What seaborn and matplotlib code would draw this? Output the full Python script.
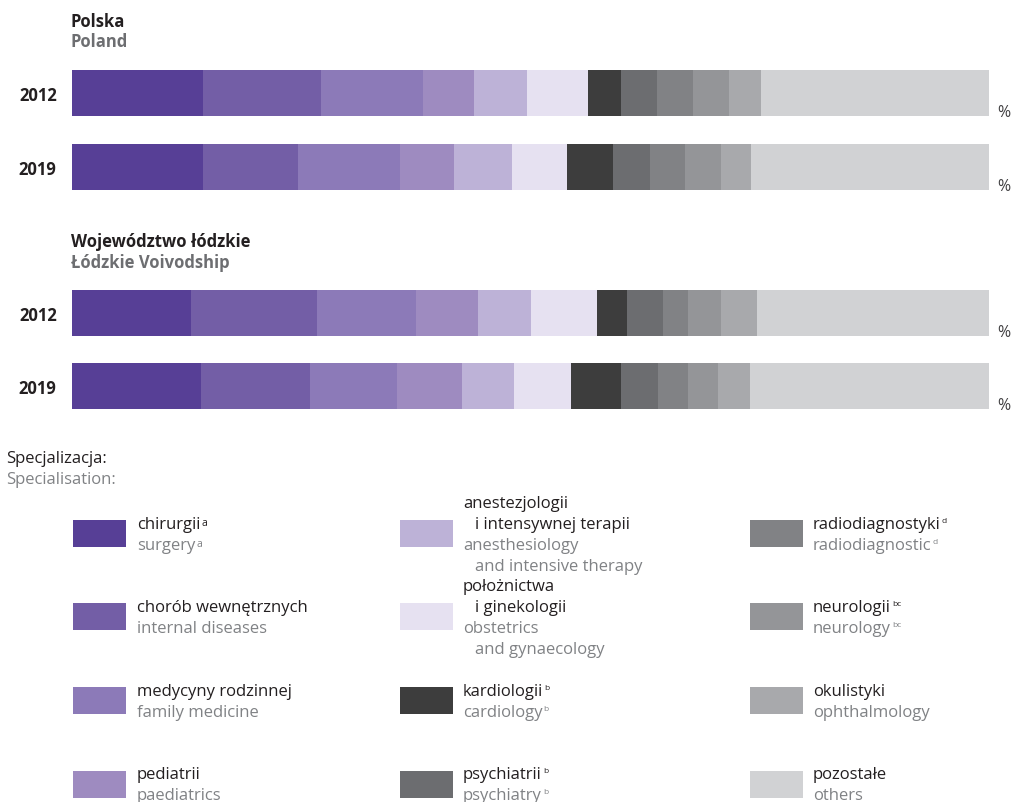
import numpy as np
import pandas as pd
import matplotlib
matplotlib.use("Agg")
import matplotlib.pyplot as plt
import matplotlib.transforms as mtransforms
from matplotlib.patches import Rectangle
import seaborn as sns

# ── Data (shares of specialists, %) ──────────────────────────────────────────

categories = [
    "chirurgii", "chorób wewnętrznych", "medycyny rodzinnej", "pediatrii",
    "anestezjologii", "położnictwa", "kardiologii", "psychiatrii",
    "radiodiagnostyki", "neurologii", "okulistyki", "pozostałe",
]
years = ["2012", "2019"]

polska_2012 = [14.3, 12.9, 11.1, 5.5, 5.8, 6.7, 3.6, 3.9, 3.9, 4.0, 3.4, 24.9]
polska_2019 = [14.3, 10.4, 11.1, 5.9, 6.3, 6.0, 5.0, 4.0, 3.9, 3.9, 3.3, 25.9]
lodzkie_2012 = [13.0, 13.7, 10.8, 6.8, 5.7, 7.2, 3.3, 4.0, 2.7, 3.6, 3.9, 25.3]
lodzkie_2019 = [14.1, 11.8, 9.5, 7.1, 5.7, 6.2, 5.5, 4.0, 3.3, 3.3, 3.4, 26.1]

colors = [
    "#573f96", "#735ea6", "#8c7ab8", "#9e8bc0", "#bdb2d7", "#e6e1f1",
    "#3d3d3d", "#6c6d70", "#818285", "#949598", "#a8a9ac", "#d1d2d4",
]

legend_pl = [
    ["chirurgii"], ["chorób wewnętrznych"], ["medycyny rodzinnej"], ["pediatrii"],
    ["anestezjologii", "i intensywnej terapii"], ["położnictwa", "i ginekologii"],
    ["kardiologii"], ["psychiatrii"],
    ["radiodiagnostyki"], ["neurologii"], ["okulistyki"], ["pozostałe"],
]
legend_en = [
    ["surgery"], ["internal diseases"], ["family medicine"], ["paediatrics"],
    ["anesthesiology", "and intensive therapy"], ["obstetrics", "and gynaecology"],
    ["cardiology"], ["psychiatry"],
    ["radiodiagnostic"], ["neurology"], ["ophthalmology"], ["others"],
]
legend_sup = ["a", "", "", "", "", "", "b", "b", "d", "bc", "", ""]

DARK = "#231f20"
GREY = "#808285"
TITLE_GREY = "#6d6e71"

W, H = 1013, 803

sns.set_theme(style="white")
plt.rcParams["font.family"] = ["Open Sans", "DejaVu Sans"]


def px_axes(fig, left, top, right, bottom):
    return fig.add_axes([left / W, 1 - bottom / H, (right - left) / W, (bottom - top) / H])


def draw_region(ax, vals_2012, vals_2019, spacing):
    rows = []
    for year, vals in zip(years, [vals_2012, vals_2019]):
        cum = np.cumsum(vals)
        for cat, v, c in zip(categories, vals, cum):
            rows.append({"year": year, "category": cat, "value": v, "cum": c})
    df = pd.DataFrame(rows)

    width = 46 / spacing
    # overlapping cumulative bars → stacked 100% bar
    for i in reversed(range(len(categories))):
        sub = df[df["category"] == categories[i]]
        sns.barplot(data=sub, x="cum", y="year", order=years, orient="h",
                    color=colors[i], width=width, saturation=1,
                    errorbar=None, linewidth=0, ax=ax)

    half = width / 2
    ax.set_xlim(0, 100)
    ax.set_ylim(1 + half, -half)
    ax.set_xticks([])
    ax.set_xlabel("")
    ax.set_ylabel("")
    sns.despine(ax=ax, left=True, bottom=True)
    ax.tick_params(axis="y", length=0, pad=11)
    for lab in ax.get_yticklabels():
        lab.set_fontweight("bold")
        lab.set_fontsize(12)
        lab.set_color(DARK)

    trans = mtransforms.blended_transform_factory(ax.transAxes, ax.transData)
    for k in range(len(years)):
        ax.text(1.0095, k + half, "%", transform=trans, ha="left", va="baseline",
                fontsize=11.5, color="#414042")


fig = plt.figure(figsize=(W / 100, H / 100), dpi=100)

ax_pl = px_axes(fig, 72, 71, 989, 191)
draw_region(ax_pl, polska_2012, polska_2019, 74)

ax_ld = px_axes(fig, 72, 291, 989, 410)
draw_region(ax_ld, lodzkie_2012, lodzkie_2019, 73)

# ── Texts and legend on a full-figure pixel canvas ───────────────────────────
bg = fig.add_axes([0, 0, 1, 1], zorder=-1)
bg.set_xlim(0, W)
bg.set_ylim(H, 0)
bg.axis("off")

bg.text(71, 27, "Polska", fontsize=12, fontweight="bold", color=DARK, va="baseline")
bg.text(71, 47, "Poland", fontsize=12, fontweight="bold", color=TITLE_GREY, va="baseline")
bg.text(71, 247, "Województwo łódzkie", fontsize=12, fontweight="bold", color=DARK, va="baseline")
bg.text(71, 268, "Łódzkie Voivodship", fontsize=12, fontweight="bold", color=TITLE_GREY, va="baseline")

bg.text(6, 463, "Specjalizacja:", fontsize=12, color=DARK, va="baseline")
bg.text(6, 484, "Specialisation:", fontsize=12, color=GREY, va="baseline")

col_swatch = [73, 400, 750]
col_text = [137, 463, 813]
row_center = [534.5, 617.5, 701.5, 785]
line_h = 21

for i in range(len(categories)):
    col, row = divmod(i, 4)
    cy = row_center[row]
    bg.add_patch(Rectangle((col_swatch[col], cy - 13.5), 53, 27,
                           facecolor=colors[i], edgecolor="none"))
    lines = [(t, DARK, j == 0) for j, t in enumerate(legend_pl[i])] + \
            [(t, GREY, j == 0) for j, t in enumerate(legend_en[i])]
    n = len(lines)
    for k, (txt, colr, first) in enumerate(lines):
        y = cy + 5 + line_h * (k - (n - 1) / 2)
        x = col_text[col] + (0 if first else 12)
        t = bg.text(x, y, txt, fontsize=12, color=colr, va="baseline")
        if first and legend_sup[i]:
            size = 7.5 if legend_sup[i] == "a" else 6
            bg.annotate(legend_sup[i], xy=(1, 0.95), xycoords=t,
                        xytext=(0.8, 0), textcoords="offset points",
                        fontsize=size, color=colr, ha="left", va="top")

fig.savefig("out.png", dpi=100)
